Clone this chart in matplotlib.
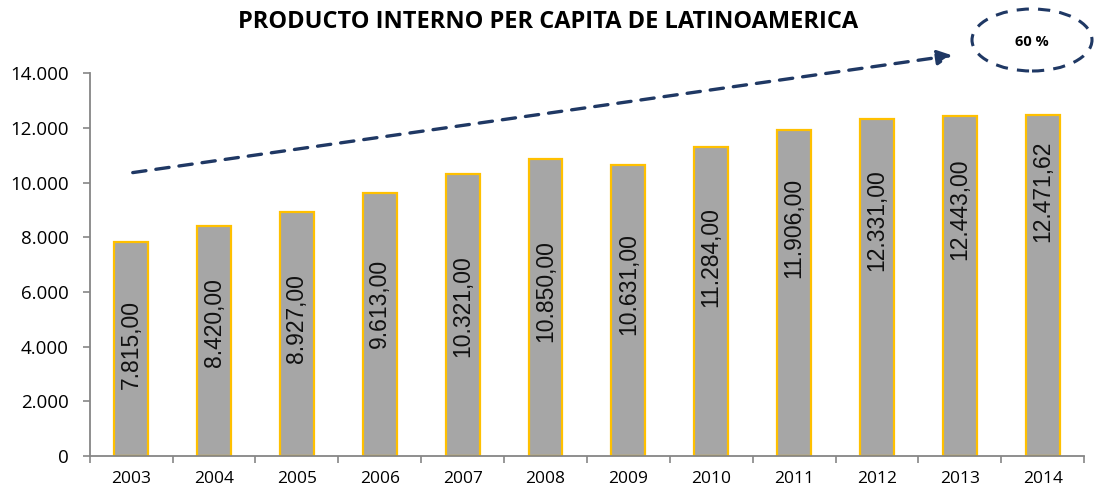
import matplotlib
matplotlib.use("Agg")
import matplotlib.pyplot as plt
from matplotlib.patches import Ellipse, FancyArrowPatch

# datos
anios = ["2003", "2004", "2005", "2006", "2007", "2008",
         "2009", "2010", "2011", "2012", "2013", "2014"]
pib_pc = [7815.00, 8420.00, 8927.00, 9613.00, 10321.00, 10850.00,
          10631.00, 11284.00, 11906.00, 12331.00, 12443.00, 12471.62]
etiquetas = ["7.815,00", "8.420,00", "8.927,00", "9.613,00", "10.321,00", "10.850,00",
             "10.631,00", "11.284,00", "11.906,00", "12.331,00", "12.443,00", "12.471,62"]
# altura del centro de la etiqueta, como fraccion de la barra
pos_etiqueta = [0.52, 0.58, 0.565, 0.58, 0.53, 0.555, 0.59, 0.645, 0.70, 0.70, 0.725, 0.775]
y_ticks = [0, 2000, 4000, 6000, 8000, 10000, 12000, 14000]
y_tick_labels = ["0", "2.000", "4.000", "6.000", "8.000", "10.000", "12.000", "14.000"]

navy = "#1F3864"
gris = "#868686"

fig = plt.figure(figsize=(10.94, 4.96), dpi=100)
ax = fig.add_axes([0.082, 0.0806, 0.909, 0.772])

x = range(len(anios))
ax.bar(x, pib_pc, width=0.41, color="#A6A6A6", edgecolor="#FFC000", linewidth=1.6, zorder=2)

for i, v in enumerate(pib_pc):
    ax.text(i, v * pos_etiqueta[i], etiquetas[i], rotation=90, ha="center", va="center",
            fontsize=16.5, family="Liberation Sans", color="#111111")

ax.set_xlim(-0.5, len(anios) - 0.5)
ax.set_ylim(0, 14000)
ax.set_yticks(y_ticks)
ax.set_yticklabels(y_tick_labels, fontsize=13.5, family="Open Sans")
ax.set_xticks(list(x))
ax.set_xticklabels(anios, fontsize=12.5, family="Open Sans")
ax.set_xticks([i + 0.5 for i in range(-1, len(anios))], minor=True)
ax.tick_params(axis="x", which="major", length=0, pad=11)
ax.tick_params(axis="x", which="minor", length=5, color=gris, width=1.2)
ax.tick_params(axis="y", length=5, color=gris, width=1.2, pad=10)

for s in ["top", "right"]:
    ax.spines[s].set_visible(False)
for s in ["left", "bottom"]:
    ax.spines[s].set_color(gris)
    ax.spines[s].set_linewidth(1.3)

fig.text(0.501, 0.955, "PRODUCTO INTERNO PER CAPITA DE LATINOAMERICA", ha="center", va="center",
         fontsize=17, fontweight="bold", family="Open Sans")

# flecha de tendencia
flecha = FancyArrowPatch((130 / 1094, 1 - 173 / 496), (955 / 1094, 1 - 55 / 496),
                         transform=fig.transFigure, arrowstyle="-|>", mutation_scale=22,
                         color=navy, linewidth=2.4, linestyle=(0, (4, 3)))
fig.patches.append(flecha)

elipse = Ellipse((1032 / 1094, 1 - 40 / 496), 120 / 1094, 62 / 496, transform=fig.transFigure,
                 fill=False, edgecolor=navy, linewidth=2.2, linestyle=(0, (4, 3)))
fig.patches.append(elipse)
fig.text(1032 / 1094, 1 - 42 / 496, "60 %", ha="center", va="center",
         fontsize=10.5, fontweight="bold", family="Open Sans")

fig.savefig("out.png", dpi=100)
